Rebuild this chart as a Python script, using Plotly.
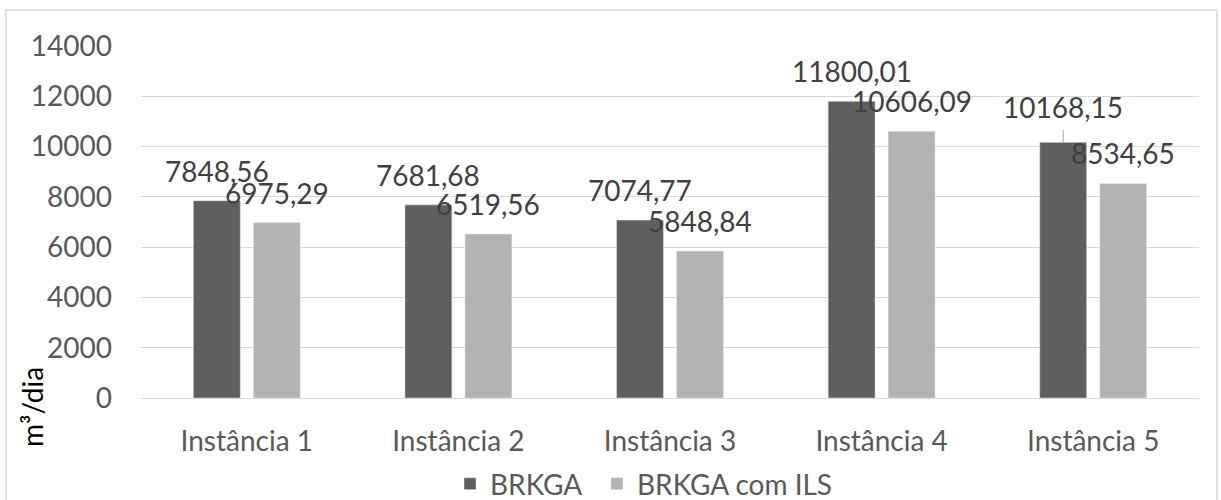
import plotly.graph_objects as go

categories = ["Instância 1", "Instância 2", "Instância 3", "Instância 4", "Instância 5"]
brkga = [7848.56, 7681.68, 7074.77, 11800.01, 10168.15]
brkga_ils = [6975.29, 6519.56, 5848.84, 10606.09, 8534.65]
series_names = ["BRKGA", "BRKGA com ILS"]
y_ticks = [0, 2000, 4000, 6000, 8000, 10000, 12000, 14000]

FONT = "Lato"
C_DARK = "#5f5f5f"
C_LIGHT = "#b3b3b3"
C_TICK = "#595959"
C_LABEL = "#404040"
GRID = "#d9d9d9"

W, H = 1221, 500
ML, MR, MT, MB = 141, 22, 46, 102
PW, PH = W - ML - MR, H - MT - MB


def px_x(p):
    return (p - ML) / PW


def px_y(p):
    return (H - MB - p) / PH


def fmt(v):
    return f"{v:.2f}".replace(".", ",")


fig = go.Figure()
fig.add_trace(go.Bar(x=categories, y=brkga, name=series_names[0], marker_color=C_DARK,
                     legend="legend"))
fig.add_trace(go.Bar(x=categories, y=brkga_ils, name=series_names[1], marker_color=C_LIGHT,
                     legend="legend2"))

annotations = []
for vals, shift in ((brkga, -30), (brkga_ils, 30)):
    for cat, v in zip(categories, vals):
        if vals is brkga and cat == categories[4]:
            annotations.append(dict(
                x=cat, y=v, xref="x", yref="y", text=fmt(v), xshift=shift,
                showarrow=True, arrowhead=0, arrowwidth=1, arrowcolor="#a6a6a6",
                ax=0, ay=-35, startstandoff=4,
                font=dict(family=FONT, size=28, color=C_LABEL)))
        else:
            annotations.append(dict(
                x=cat, y=v, xref="x", yref="y", text=fmt(v), xshift=shift,
                showarrow=False, yanchor="bottom", yshift=11,
                font=dict(family=FONT, size=28, color=C_LABEL)))

annotations.append(dict(
    x=px_x(32), y=px_y(407), xref="paper", yref="paper", text="m³/dia",
    textangle=-90, showarrow=False, xanchor="center", yanchor="middle",
    font=dict(family=FONT, size=28, color="#000000")))

legend_common = dict(orientation="h", xanchor="left", y=px_y(484), yanchor="middle",
                     font=dict(family=FONT, size=28, color=C_TICK),
                     bgcolor="rgba(0,0,0,0)", itemclick=False)

fig.update_layout(
    width=W, height=H,
    margin=dict(l=ML, r=MR, t=MT, b=MB, pad=0, autoexpand=False),
    paper_bgcolor="white", plot_bgcolor="white",
    barmode="group", bargap=0.433, bargroupgap=0.217,
    font=dict(family=FONT, size=28, color=C_TICK),
    showlegend=True,
    legend=dict(x=px_x(450), **legend_common),
    legend2=dict(x=px_x(597), **legend_common),
    annotations=annotations,
    shapes=[dict(type="rect", xref="paper", yref="paper",
                 x0=px_x(6), x1=px_x(1217), y0=px_y(520), y1=px_y(10),
                 line=dict(color=GRID, width=1.5), fillcolor="rgba(0,0,0,0)", layer="below")],
    xaxis=dict(showgrid=False, showline=True, linecolor=GRID, linewidth=1,
               ticks="", ticklabelstandoff=18,
               tickfont=dict(family=FONT, size=28, color=C_TICK)),
    yaxis=dict(range=[0, 14000], tickvals=y_ticks, ticktext=[str(t) for t in y_ticks],
               showgrid=True, gridcolor=GRID, gridwidth=1, zeroline=False,
               showline=False, ticks="", ticklabelstandoff=28,
               tickfont=dict(family=FONT, size=28, color=C_TICK)),
)

fig.write_html("out.html")
